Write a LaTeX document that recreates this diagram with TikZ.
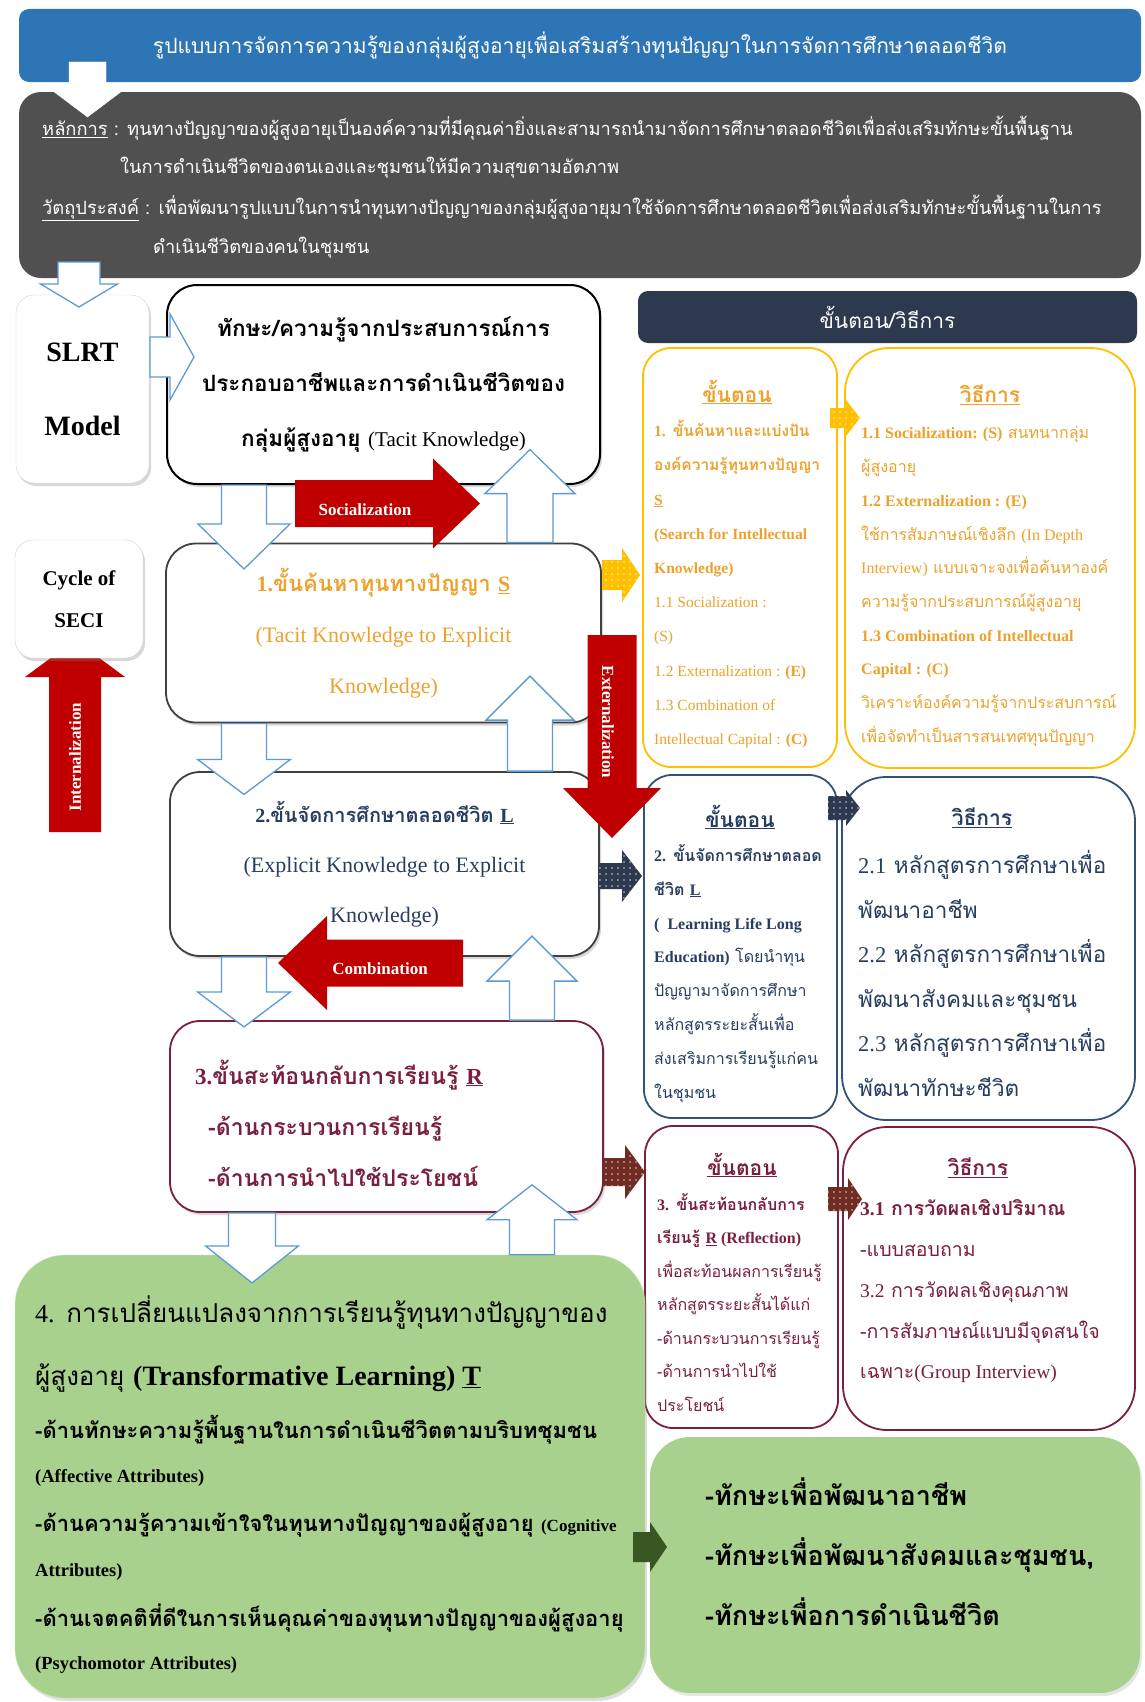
\documentclass[tikz,border=0pt]{standalone}
\usepackage{fontspec}
\setmainfont[Script=Thai]{Loma}
\newfontfamily\en{Liberation Serif}
\usetikzlibrary{shadows,patterns.meta}

\definecolor{titleblue}{RGB}{46,117,182}
\definecolor{headgray}{RGB}{80,80,80}
\definecolor{hollowblue}{RGB}{91,155,213}
\definecolor{stepnavy}{RGB}{44,57,78}
\definecolor{goldline}{RGB}{255,192,0}
\definecolor{goldtext}{RGB}{236,162,44}
\definecolor{boxgray}{RGB}{64,64,64}
\definecolor{navyline}{RGB}{52,82,118}
\definecolor{navytext}{RGB}{40,62,96}
\definecolor{maroon}{RGB}{122,32,60}
\definecolor{secired}{RGB}{192,0,0}
\definecolor{leafgreen}{RGB}{169,209,142}
\definecolor{darkleaf}{RGB}{56,87,35}
\definecolor{rustbrown}{RGB}{112,44,34}

\newcommand{\fsz}[2]{\fontsize{#1}{#2}\selectfont}
% block arrow: [style]{tail}{angle}{length}{shaft half width}{head half width}{head length}
\newcommand{\barrow}[7][]{%
  \path[#1, shift={#2}, rotate=#3]
    (0,-#5) -- ({#4-#7},-#5) -- ({#4-#7},-#6) -- (#4,0)
    -- ({#4-#7},#6) -- ({#4-#7},#5) -- (0,#5) -- cycle;}

\tikzset{
  card/.style     = {draw=gray!35, fill=white, rounded corners=18pt, inner sep=0,
                     drop shadow={opacity=0.3, shadow xshift=2pt, shadow yshift=-3pt}},
  stagebox/.style = {draw=#1, line width=1.8pt, fill=white, rounded corners=30pt, inner sep=0,
                     drop shadow={opacity=0.3, shadow xshift=2pt, shadow yshift=-3pt}},
  colbox/.style   = {draw=#1, line width=1.8pt, fill=white, inner sep=0},
  colhead/.style  = {font=\bfseries\fsz{21}{24}, inner sep=0},
  coltxt/.style   = {anchor=west, align=left, inner sep=0},
  hdtxt/.style    = {anchor=west, text=white, font=\fsz{18.3}{20}, inner sep=0},
  hollow/.style   = {draw=hollowblue, fill=white, line width=1.3pt},
  redarrow/.style = {fill=secired},
  redlab/.style   = {text=white, font=\en\bfseries\fsz{17}{20}, inner sep=0},
  dotarrow/.style = {fill=#1, postaction={pattern={Dots[distance=6pt, radius=0.9pt]}, pattern color=white!75!#1}},
  greentxt/.style = {anchor=west, inner sep=0},
}

\begin{document}
\begin{tikzpicture}[x=1pt, y=-1pt]
\path[use as bounding box, fill=white] (0,0) rectangle (1144,1702);

% title and principles
\node[fill=titleblue, rounded corners=10pt, minimum width=1122pt, minimum height=73pt, inner sep=0,
      text=white, font=\fsz{21}{24}] (title) at (580,45.5)
  {รูปแบบการจัดการความรู้ของกลุ่มผู้สูงอายุเพื่อเสริมสร้างทุนปัญญาในการจัดการศึกษาตลอดชีวิต};
\node[fill=headgray, rounded corners=22pt, minimum width=1122pt, minimum height=186pt, inner sep=0] (head) at (580,185) {};
\node[hdtxt] (hlone) at (42,128) {\underline{หลักการ} : ทุนทางปัญญาของผู้สูงอายุเป็นองค์ความที่มีคุณค่ายิ่งและสามารถนำมาจัดการศึกษาตลอดชีวิตเพื่อส่งเสริมทักษะขั้นพื้นฐาน};
\node[hdtxt] (hltwo) at (120,168) {ในการดำเนินชีวิตของตนเองและชุมชนให้มีความสุขตามอัตภาพ};
\node[hdtxt] (hlthree) at (42,208) {\underline{วัตถุประสงค์} : เพื่อพัฒนารูปแบบในการนำทุนทางปัญญาของกลุ่มผู้สูงอายุมาใช้จัดการศึกษาตลอดชีวิตเพื่อส่งเสริมทักษะขั้นพื้นฐานในการ};
\node[hdtxt] (hlfour) at (153,248) {ดำเนินชีวิตของคนในชุมชน};
\barrow[fill=white, draw=white]{(87.5,62)}{270}{55}{18.5}{38.5}{29}

% left side
\node[card, minimum width=133pt, minimum height=188pt, align=center, font=\en\bfseries\fsz{28}{74}] (slrt) at (82.5,389) {SLRT\\Model};
\barrow[redarrow]{(75,832)}{90}{192}{26}{50}{37}
\node[card, minimum width=128pt, minimum height=118pt, align=center, font=\en\bfseries\fsz{21}{42}] (seci) at (79,599) {Cycle of\\SECI};
\node[redlab, rotate=90] (intlab) at (75,757) {Internalization};

% stage boxes
\node[draw=black, line width=2pt, fill=white, rounded corners=30pt, minimum width=433pt, minimum height=199pt, inner sep=0,
      drop shadow={opacity=0.3, shadow xshift=2pt, shadow yshift=-3pt},
      align=center, font=\bfseries\fsz{22.5}{55}] (tacit) at (383.5,384.5)
  {ทักษะ/ความรู้จากประสบการณ์การ\\ประกอบอาชีพและการดำเนินชีวิตของ\\กลุ่มผู้สูงอายุ {\en\mdseries\fsz{21}{55}(Tacit Knowledge)}};
\node[stagebox=boxgray, minimum width=435pt, minimum height=179pt, align=center, text=goldtext,
      font=\en\fsz{22}{51}] (sone) at (383.5,633)
  {{\rmfamily\bfseries\fsz{22}{51}{\en 1.}ขั้นค้นหาทุนทางปัญญา {\en\underline{S}}}\\(Tacit Knowledge to Explicit\\Knowledge)};
\node[stagebox=boxgray, minimum width=429pt, minimum height=184pt, align=center, text=navytext,
      font=\en\fsz{22}{50}] (stwo) at (384.5,864)
  {{\rmfamily\bfseries\fsz{20}{50}{\en 2.}ขั้นจัดการศึกษาตลอดชีวิต {\en\underline{L}}}\\(Explicit Knowledge to Explicit\\Knowledge)};
\node[stagebox=maroon, minimum width=433pt, minimum height=191pt] (sthree) at (386.5,1116.5) {};
\node[coltxt, text=maroon, font=\bfseries\fsz{23}{51}] (sthreetxt) at (195,1123)
  {{\en 3.}ขั้นสะท้อนกลับการเรียนรู้ {\en\underline{R}}\\\hspace*{13pt}-ด้านกระบวนการเรียนรู้\\\hspace*{13pt}-ด้านการนำไปใช้ประโยชน์};

% steps / methods columns
\node[fill=stepnavy, rounded corners=10pt, minimum width=499pt, minimum height=52pt, inner sep=0,
      text=white, font=\fsz{21}{24}] (stephead) at (887.5,317) {ขั้นตอน/วิธีการ};

\node[colbox=goldline, rounded corners=28pt, minimum width=194pt, minimum height=419pt] (ystep) at (740,557.5) {};
\node[colbox=goldline, rounded corners=44pt, minimum width=290pt, minimum height=420pt] (ymeth) at (990,558) {};
\node[colhead, text=goldtext] (ysteph) at (737,392) {\underline{ขั้นตอน}};
\node[colhead, text=goldtext] (ymethh) at (990,395) {\underline{วิธีการ}};
\node[coltxt, text=goldtext, font=\fsz{15.5}{34.2}] (ysteptxt) at (654,584)
  {{\bfseries{\en 1.} ขั้นค้นหาและแบ่งปัน}\\
   {\bfseries องค์ความรู้ทุนทางปัญญา}\\
   {\en\bfseries\underline{S}}\\
   {\en\bfseries (Search for Intellectual}\\
   {\en\bfseries Knowledge)}\\
   {\en 1.1 Socialization :}\\
   {\en (S)}\\
   {\en 1.2 Externalization : \textbf{(E)}}\\
   {\en 1.3 Combination of}\\
   {\en Intellectual Capital : \textbf{(C)}}};
\node[coltxt, text=goldtext, font=\fsz{16}{33.7}] (ymethtxt) at (861,586.5)
  {{\en\bfseries 1.1 Socialization: (S)} สนทนากลุ่ม\\
   ผู้สูงอายุ\\
   {\en\bfseries 1.2 Externalization : (E)}\\
   ใช้การสัมภาษณ์เชิงลึก {\en (In Depth}\\
   {\en Interview)} แบบเจาะจงเพื่อค้นหาองค์\\
   ความรู้จากประสบการณ์ผู้สูงอายุ\\
   {\en\bfseries 1.3 Combination of Intellectual}\\
   {\en\bfseries Capital : (C)}\\
   วิเคราะห์องค์ความรู้จากประสบการณ์\\
   เพื่อจัดทำเป็นสารสนเทศทุนปัญญา};

\node[colbox=navyline, rounded corners=28pt, minimum width=193pt, minimum height=343pt] (nstep) at (740.5,946.5) {};
\node[colbox=navyline, rounded corners=44pt, minimum width=293pt, minimum height=343pt] (nmeth) at (988.5,948.5) {};
\node[colhead, text=navytext] (nsteph) at (740,817) {\underline{ขั้นตอน}};
\node[colhead, text=navytext] (nmethh) at (982,818) {\underline{วิธีการ}};
\node[coltxt, text=navytext, font=\fsz{16}{33.9}] (nsteptxt) at (654,973.5)
  {{\bfseries{\en 2.} ขั้นจัดการศึกษาตลอด}\\
   {\bfseries ชีวิต {\en\underline{L}}}\\
   {\en\bfseries (\ \ Learning Life Long}\\
   {\en\bfseries Education)} โดยนำทุน\\
   ปัญญามาจัดการศึกษา\\
   หลักสูตรระยะสั้นเพื่อ\\
   ส่งเสริมการเรียนรู้แก่คน\\
   ในชุมชน};
\node[coltxt, text=navytext, font=\fsz{22.5}{44.6}] (nmethtxt) at (858,973.5)
  {{\en 2.1} หลักสูตรการศึกษาเพื่อ\\พัฒนาอาชีพ\\
   {\en 2.2} หลักสูตรการศึกษาเพื่อ\\พัฒนาสังคมและชุมชน\\
   {\en 2.3} หลักสูตรการศึกษาเพื่อ\\พัฒนาทักษะชีวิต};

\node[colbox=maroon, rounded corners=28pt, minimum width=193pt, minimum height=302pt] (mstep) at (741.5,1277) {};
\node[colbox=maroon, rounded corners=44pt, minimum width=292pt, minimum height=303pt] (mmeth) at (989,1278.5) {};
\node[colhead, text=maroon] (msteph) at (742,1165) {\underline{ขั้นตอน}};
\node[colhead, text=maroon] (mmethh) at (978,1168) {\underline{วิธีการ}};
\node[coltxt, text=maroon, font=\fsz{16}{33.5}] (msteptxt) at (657,1302.5)
  {{\bfseries{\en 3.} ขั้นสะท้อนกลับการ}\\
   {\bfseries เรียนรู้ {\en\underline{R} (Reflection)}}\\
   เพื่อสะท้อนผลการเรียนรู้\\
   หลักสูตรระยะสั้นได้แก่\\
   -ด้านกระบวนการเรียนรู้\\
   -ด้านการนำไปใช้\\
   ประโยชน์};
\node[coltxt, text=maroon, font=\fsz{19.5}{40.75}] (mmethtxt) at (860,1291.5)
  {{\bfseries{\en 3.1} การวัดผลเชิงปริมาณ}\\
   -แบบสอบถาม\\
   {\en 3.2} การวัดผลเชิงคุณภาพ\\
   -การสัมภาษณ์แบบมีจุดสนใจ\\
   เฉพาะ{\en (Group Interview)}};

% transformation boxes
\node[fill=leafgreen, draw=leafgreen!60!white, rounded corners=50pt, minimum width=630pt, minimum height=443pt, inner sep=0,
      drop shadow={opacity=0.25, shadow xshift=2pt, shadow yshift=-3pt}] (trans) at (330,1476.5) {};
\node[greentxt, font=\fsz{26}{28}] (tone) at (35,1313) {{\en 4.} การเปลี่ยนแปลงจากการเรียนรู้ทุนทางปัญญาของ};
\node[greentxt, font=\fsz{26}{28}] (ttwo) at (35,1378) {ผู้สูงอายุ {\en\bfseries\fsz{28}{30}(Transformative Learning) \underline{T}}};
\node[greentxt, font=\bfseries\fsz{22}{24}] (tthree) at (35,1430) {-ด้านทักษะความรู้พื้นฐานในการดำเนินชีวิตตามบริบทชุมชน};
\node[greentxt, font=\en\bfseries\fsz{18.5}{20}] (tfour) at (35,1478) {(Affective Attributes)};
\node[greentxt, font=\bfseries\fsz{22}{24}] (tfive) at (35,1525) {-ด้านความรู้ความเข้าใจในทุนทางปัญญาของผู้สูงอายุ {\en\fsz{17}{20}(Cognitive}};
\node[greentxt, font=\en\bfseries\fsz{18.5}{20}] (tsix) at (35,1572) {Attributes)};
\node[greentxt, font=\bfseries\fsz{22}{24}] (tseven) at (35,1618) {-ด้านเจตคติที่ดีในการเห็นคุณค่าของทุนทางปัญญาของผู้สูงอายุ};
\node[greentxt, font=\en\bfseries\fsz{18.5}{20}] (teight) at (35,1665) {(Psychomotor Attributes)};

\node[fill=leafgreen, rounded corners=40pt, minimum width=490pt, minimum height=256pt, inner sep=0,
      drop shadow={opacity=0.2, shadow xshift=2pt, shadow yshift=-3pt}] (skill) at (895,1565) {};
\node[coltxt, font=\bfseries\fsz{27}{60}] (skilltxt) at (705,1552)
  {-ทักษะเพื่อพัฒนาอาชีพ\\-ทักษะเพื่อพัฒนาสังคมและชุมชน,\\-ทักษะเพื่อการดำเนินชีวิต};

% hollow arrows between boxes
\barrow[hollow]{(79,262)}{270}{45}{21}{38.5}{23}
\barrow[hollow]{(150,357)}{0}{44}{20}{43}{24}
\barrow[hollow]{(244,0 |- tacit.south)}{270}{84}{22.5}{46}{45}
\barrow[hollow]{(530,0 |- sone.north)}{90}{93}{23}{45}{44}
\barrow[hollow]{(244,0 |- sone.south)}{270}{71}{22.5}{46.5}{35}
\barrow[hollow]{(530,0 |- stwo.north)}{90}{95}{22.5}{44}{44}
\barrow[hollow]{(244,0 |- stwo.south)}{270}{70}{22.5}{46.5}{35}
\barrow[hollow]{(532,0 |- sthree.north)}{90}{84}{22.5}{45}{45}
\barrow[hollow]{(252,0 |- sthree.south)}{270}{70}{23.5}{46.5}{37}
\barrow[hollow]{(532,0 |- trans.north)}{90}{70}{22.5}{45}{35}

% SECI arrows
\barrow[redarrow]{(295,503.5)}{0}{185}{23.5}{45}{47}
\node[redlab] (soclab) at (365,510) {Socialization};
\barrow[redarrow]{(612,635)}{270}{203}{24.5}{49}{50}
\node[redlab, rotate=-90] (extlab) at (608,722) {Externalization};
\barrow[redarrow]{(463,963)}{180}{185}{23.5}{47}{49}
\node[redlab] (comlab) at (380,969) {Combination};

% dotted arrows
\barrow[dotarrow=goldline]{(602,575)}{0}{38}{15}{27}{18}
\barrow[dotarrow=goldline]{(830,418)}{0}{30}{10}{18}{14}
\barrow[dotarrow=stepnavy]{(598,876)}{0}{44}{13}{26}{20}
\barrow[dotarrow=stepnavy]{(828,808)}{0}{32}{12}{18}{14}
\barrow[dotarrow=rustbrown]{(603,1172)}{0}{42}{14}{27}{20}
\barrow[dotarrow=rustbrown]{(828,1199)}{0}{34}{12}{21}{14}
\barrow[fill=darkleaf]{(633,1547)}{0}{34}{15}{25}{17}
\end{tikzpicture}
\end{document}
